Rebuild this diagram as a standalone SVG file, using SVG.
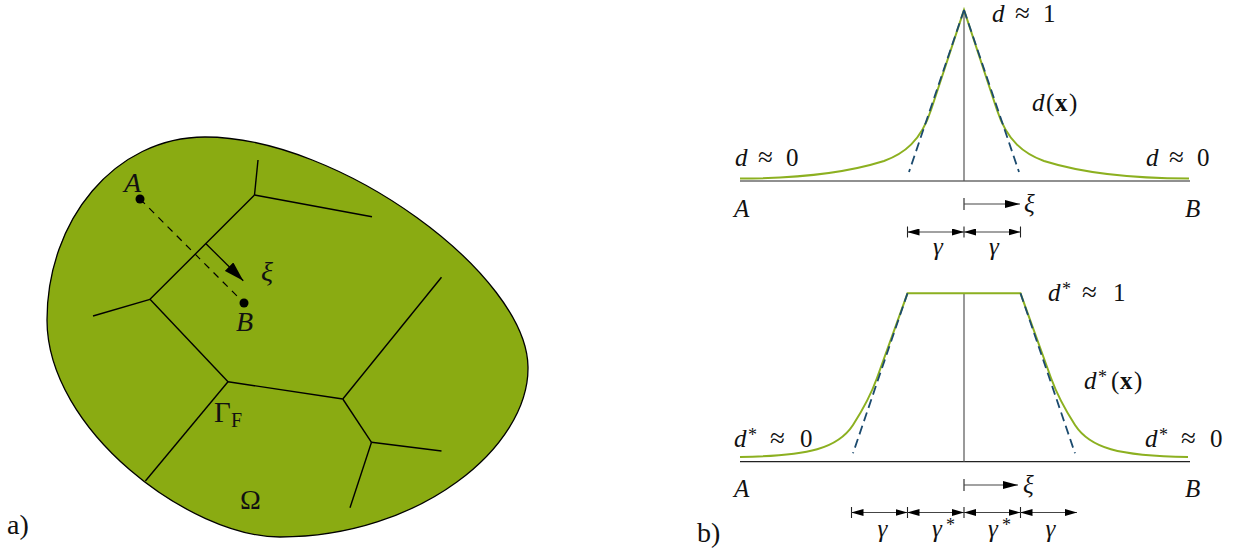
<svg xmlns="http://www.w3.org/2000/svg" width="1237" height="552" viewBox="0 0 1237 552">
<style>
text{font-family:"Liberation Serif","Times New Roman",serif;fill:#111}
.it{font-style:italic}
.bf{font-weight:bold}
.ap{font-size:27px}
.pa{font-size:28px}
.pb{font-size:25px}
.sup{font-size:18px}
.crack{stroke:#000;stroke-width:1.4;fill:none}
.axis{stroke:#222;stroke-width:1.2}
.vert{stroke:#555;stroke-width:1.2}
.green{stroke:#8cb020;stroke-width:2;fill:none}
.dash{stroke:#1b4a6e;stroke-width:1.8;stroke-dasharray:9 5;fill:none}
.dim{stroke:#444;stroke-width:1.1}
.tick{stroke:#222;stroke-width:1.1}
</style>
<defs>
<marker id="hs" markerUnits="userSpaceOnUse" markerWidth="12" markerHeight="7" refX="12" refY="3.5" orient="auto-start-reverse"><path d="M0,0 L12,3.5 L0,7 Z" fill="#000"/></marker>
<marker id="hx" markerUnits="userSpaceOnUse" markerWidth="15" markerHeight="8" refX="15" refY="4" orient="auto"><path d="M0,0 L15,4 L0,8 Z" fill="#000"/></marker>
<marker id="ha" markerUnits="userSpaceOnUse" markerWidth="20" markerHeight="12" refX="20" refY="6" orient="auto"><path d="M0,0 L20,6 L0,12 Z" fill="#000"/></marker>
</defs>

<g id="panel-a">
<path id="domain" d="M 205,137 C 340,137 527,275 528,367 C 529,447 420,537 280,537 C 190,537 47,430 47,320 C 47,220 115,137 205,137 Z" fill="#8aab12" stroke="#000" stroke-width="1.3"/>
<g id="cracks" class="crack">
<line x1="258" y1="160" x2="254.5" y2="195"/>
<line x1="254.5" y1="195" x2="372" y2="216.7"/>
<line x1="254.5" y1="195" x2="150" y2="299.3"/>
<line x1="150" y1="299.3" x2="93" y2="316"/>
<line x1="150" y1="299.3" x2="228" y2="381.7"/>
<line x1="228" y1="381.7" x2="342.8" y2="399"/>
<line x1="228" y1="381.7" x2="145.4" y2="481"/>
<line x1="342.8" y1="399" x2="441.5" y2="277.3"/>
<line x1="342.8" y1="399" x2="371.5" y2="442.3"/>
<line x1="371.5" y1="442.3" x2="441.5" y2="451"/>
<line x1="371.5" y1="442.3" x2="350" y2="507.7"/>
</g>
<g id="path-AB">
<line x1="140" y1="199" x2="244" y2="303" stroke="#000" stroke-width="1.2" stroke-dasharray="7 6"/>
<circle cx="140" cy="199" r="4.5" fill="#000"/>
<circle cx="244" cy="303" r="4.5" fill="#000"/>
<line x1="205.7" y1="243.5" x2="243.3" y2="280.7" stroke="#000" stroke-width="1.3" marker-end="url(#ha)"/>
</g>
<text class="pa it" x="124" y="192">A</text>
<text class="pa it" x="236" y="331">B</text>
<text class="pa it" x="261" y="281">ξ</text>
<text x="214" y="422" font-size="29">Γ</text>
<text x="231" y="427" font-size="20">F</text>
<text class="pa" x="240" y="509">Ω</text>
<text class="pa" x="7" y="534">a)</text>
</g>

<g id="panel-b-top">
<line class="axis" x1="740" y1="181" x2="1190" y2="181"/>
<line class="vert" x1="964" y1="10" x2="964" y2="181"/>
<path class="green" d="M 740,178.5 C 799,178.5 849,172 884,161 C 904,153.6 921,141 931,110 L 964,10 L 997,110 C 1007,141 1024,153.6 1044,161 C 1079,172 1129,178.5 1189,178.5"/>
<path class="dash" d="M 964,10 L 909,172 M 964,10 L 1019,172"/>
<text class="pb"><tspan class="it" x="992" y="22">d</tspan><tspan class="ap" x="1015" y="22">≈</tspan><tspan x="1043" y="22">1</tspan></text>
<text class="pb"><tspan class="it" x="1032" y="111">d</tspan><tspan x="1046" y="111">(</tspan><tspan class="bf" x="1055" y="111">x</tspan><tspan x="1069" y="111">)</tspan></text>
<text class="pb"><tspan class="it" x="735" y="166">d</tspan><tspan class="ap" x="758" y="166">≈</tspan><tspan x="786" y="166">0</tspan></text>
<text class="pb"><tspan class="it" x="1146" y="166">d</tspan><tspan class="ap" x="1169" y="166">≈</tspan><tspan x="1197" y="166">0</tspan></text>
<text class="pb it" x="734" y="217">A</text>
<text class="pb it" x="1185" y="217">B</text>
<line class="tick" x1="964" y1="198" x2="964" y2="210"/>
<line class="dim" x1="964" y1="204" x2="1020" y2="204" marker-end="url(#hx)"/>
<text class="pb it" x="1024" y="212">ξ</text>
<g id="gamma-top">
<line class="tick" x1="907.5" y1="226.5" x2="907.5" y2="237.5"/>
<line class="tick" x1="964" y1="226.5" x2="964" y2="237.5"/>
<line class="tick" x1="1020.5" y1="226.5" x2="1020.5" y2="237.5"/>
<line class="dim" x1="907.5" y1="232" x2="964" y2="232" marker-start="url(#hs)" marker-end="url(#hs)"/>
<line class="dim" x1="964" y1="232" x2="1020.5" y2="232" marker-start="url(#hs)" marker-end="url(#hs)"/>
<text class="pb it" x="938" y="255" text-anchor="middle">γ</text>
<text class="pb it" x="994" y="255" text-anchor="middle">γ</text>
</g>
</g>

<g id="panel-b-bottom">
<line class="axis" x1="740" y1="461.7" x2="1190" y2="461.7"/>
<line class="vert" x1="964" y1="293.3" x2="964" y2="461.7"/>
<path class="green" d="M 740,457 C 810,456 838,448 853,425 C 862,411 870,397.5 877,378 L 907.5,293.3 L 1020.5,293.3 L 1051,378 C 1058,397.5 1066,411 1075,425 C 1090,448 1118,456 1188,457"/>
<path class="dash" d="M 907.5,293.3 L 853,453.3 M 1020.5,293.3 L 1075,453.3"/>
<text class="pb"><tspan class="it" x="1048" y="301">d</tspan><tspan class="sup" x="1062" y="295">*</tspan><tspan class="ap" x="1082" y="301">≈</tspan><tspan x="1113" y="301">1</tspan></text>
<text class="pb"><tspan class="it" x="1084" y="389">d</tspan><tspan class="sup" x="1098" y="383">*</tspan><tspan x="1111" y="389">(</tspan><tspan class="bf" x="1120" y="389">x</tspan><tspan x="1134" y="389">)</tspan></text>
<text class="pb"><tspan class="it" x="734" y="447">d</tspan><tspan class="sup" x="748" y="441">*</tspan><tspan class="ap" x="770" y="447">≈</tspan><tspan x="800" y="447">0</tspan></text>
<text class="pb"><tspan class="it" x="1145" y="447">d</tspan><tspan class="sup" x="1159" y="441">*</tspan><tspan class="ap" x="1181" y="447">≈</tspan><tspan x="1210" y="447">0</tspan></text>
<text class="pb it" x="734" y="497">A</text>
<text class="pb it" x="1185" y="497">B</text>
<line class="tick" x1="964" y1="479" x2="964" y2="491"/>
<line class="dim" x1="964" y1="485" x2="1018" y2="485" marker-end="url(#hx)"/>
<text class="pb it" x="1023" y="493">ξ</text>
<g id="gamma-bottom">
<line class="tick" x1="851.5" y1="507" x2="851.5" y2="518"/>
<line class="tick" x1="907.5" y1="507" x2="907.5" y2="518"/>
<line class="tick" x1="964" y1="507" x2="964" y2="518"/>
<line class="tick" x1="1020.5" y1="507" x2="1020.5" y2="518"/>
<line class="dim" x1="851.5" y1="512.5" x2="907.5" y2="512.5" marker-start="url(#hs)" marker-end="url(#hs)"/>
<line class="dim" x1="907.5" y1="512.5" x2="964" y2="512.5" marker-start="url(#hs)" marker-end="url(#hs)"/>
<line class="dim" x1="964" y1="512.5" x2="1020.5" y2="512.5" marker-start="url(#hs)" marker-end="url(#hs)"/>
<line class="dim" x1="1020.5" y1="512.5" x2="1077" y2="512.5" marker-start="url(#hs)" marker-end="url(#hs)"/>
<text class="pb it" x="882.5" y="537" text-anchor="middle">γ</text>
<text class="pb"><tspan class="it" x="932" y="537">γ</tspan><tspan class="sup" x="946" y="531">*</tspan></text>
<text class="pb"><tspan class="it" x="988" y="537">γ</tspan><tspan class="sup" x="1002" y="531">*</tspan></text>
<text class="pb it" x="1050.5" y="537" text-anchor="middle">γ</text>
</g>
<text class="pa" x="697" y="542">b)</text>
</g>
</svg>
